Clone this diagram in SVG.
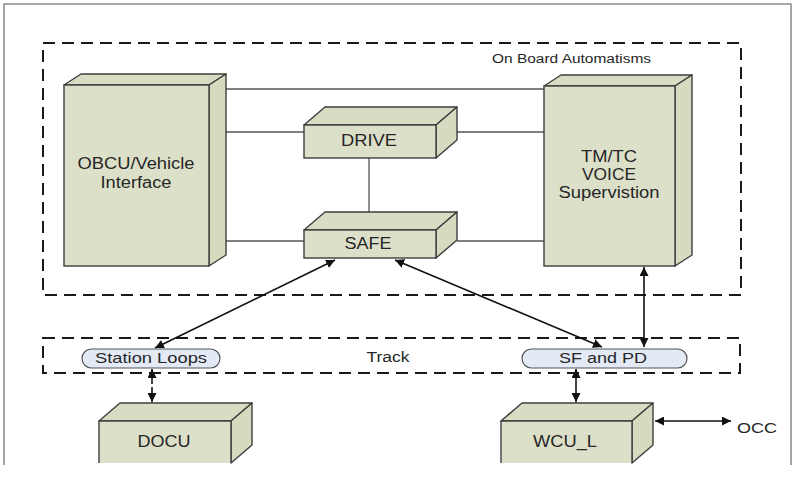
<svg xmlns="http://www.w3.org/2000/svg" width="795" height="499" viewBox="0 0 795 499">
<style>
.frame{fill:none;stroke:#8a8a8a;stroke-width:1.5}
.dash{fill:none;stroke:#1a1a1a;stroke-width:2;stroke-dasharray:12,7}
.front{fill:#dde0c9;stroke:#3e3e3e;stroke-width:1.4}
.top{fill:#d9dcc3;stroke:#3e3e3e;stroke-width:1.4;stroke-linejoin:round}
.side{fill:#d6dabf;stroke:#3e3e3e;stroke-width:1.4;stroke-linejoin:round}
.edge{fill:none;stroke:#3e3e3e;stroke-width:1.4}
.pill{fill:#e3eaf6;stroke:#555;stroke-width:1.2}
.lbl{font-family:"Liberation Sans",Arial,sans-serif;fill:#262626;text-anchor:middle}
.conn{stroke:#555;stroke-width:1.3;fill:none}
.arr{stroke:#111;stroke-width:1.6;fill:none;marker-start:url(#ah);marker-end:url(#ah)}
</style>
<defs>
<marker id="ah" viewBox="0 0 10 10" refX="10" refY="5" markerWidth="9" markerHeight="9" markerUnits="userSpaceOnUse" orient="auto-start-reverse">
<path d="M0,0 L10,5 L0,10 z" fill="#111"/>
</marker>
</defs>
<rect width="795" height="499" fill="#fff"/>
<path class="frame" d="M4,465 V4 H791 V465"/>

<g id="onboard">
<rect class="dash" x="43" y="43" width="698" height="252"/>
<text class="lbl" x="571.5" y="63" font-size="12.5" textLength="159" lengthAdjust="spacingAndGlyphs">On Board Automatisms</text>
</g>
<g id="track">
<rect class="dash" x="43" y="338" width="697" height="35"/>
<text class="lbl" x="388" y="362" font-size="15.5" textLength="43" lengthAdjust="spacingAndGlyphs">Track</text>
</g>

<g id="connectors">
<line class="conn" x1="226" y1="89" x2="544" y2="89"/>
<line class="conn" x1="226" y1="132" x2="304" y2="132"/>
<line class="conn" x1="457" y1="132" x2="544" y2="132"/>
<line class="conn" x1="226" y1="241" x2="304" y2="241"/>
<line class="conn" x1="457" y1="241" x2="544" y2="241"/>
<line class="conn" x1="369" y1="158" x2="369" y2="212"/>
<line class="arr" x1="155" y1="348" x2="335" y2="260"/>
<line class="arr" x1="602" y1="347" x2="395" y2="260"/>
<line class="arr" x1="644" y1="267" x2="644" y2="347"/>
<line class="arr" x1="152" y1="369" x2="152" y2="402" stroke-dasharray="6,3"/>
<line class="arr" x1="576" y1="369" x2="576" y2="402"/>
<line class="arr" x1="655" y1="421" x2="731" y2="421"/>
</g>

<g id="obcu">
<polygon class="top" points="64,85 81,74 226,74 209,85"/>
<polygon class="side" points="209,85 226,74 226,255 209,266"/>
<rect class="front" x="64" y="85" width="145" height="181"/>
<text class="lbl" x="136" y="169" font-size="16" textLength="117" lengthAdjust="spacingAndGlyphs">OBCU/Vehicle</text>
<text class="lbl" x="136" y="188" font-size="16" textLength="71" lengthAdjust="spacingAndGlyphs">Interface</text>
</g>

<g id="tmtc">
<polygon class="top" points="544,86 561,75 692,75 675,86"/>
<polygon class="side" points="675,86 692,75 692,255 675,266"/>
<rect class="front" x="544" y="86" width="131" height="180"/>
<text class="lbl" x="609" y="162" font-size="16" textLength="56" lengthAdjust="spacingAndGlyphs">TM/TC</text>
<text class="lbl" x="609" y="180" font-size="16" textLength="54" lengthAdjust="spacingAndGlyphs">VOICE</text>
<text class="lbl" x="609" y="198" font-size="16" textLength="101" lengthAdjust="spacingAndGlyphs">Supervistion</text>
</g>

<g id="drive">
<polygon class="top" points="304,125 325,107 457,107 436,125"/>
<polygon class="side" points="436,125 457,107 457,140 436,158"/>
<rect class="front" x="304" y="125" width="132" height="33"/>
<text class="lbl" x="369" y="146" font-size="16" textLength="56" lengthAdjust="spacingAndGlyphs">DRIVE</text>
</g>

<g id="safe">
<polygon class="top" points="304,230 325,212 457,212 436,230"/>
<polygon class="side" points="436,230 457,212 457,240 436,258"/>
<rect class="front" x="304" y="230" width="132" height="28"/>
<text class="lbl" x="368" y="249" font-size="16" textLength="47" lengthAdjust="spacingAndGlyphs">SAFE</text>
</g>

<g id="stationloops">
<rect class="pill" x="82" y="349" width="138" height="19" rx="9.5"/>
<text class="lbl" x="151" y="363" font-size="15" textLength="112" lengthAdjust="spacingAndGlyphs">Station Loops</text>
</g>

<g id="sfpd">
<rect class="pill" x="522" y="349" width="165" height="19" rx="9.5"/>
<text class="lbl" x="603" y="363" font-size="15" textLength="88" lengthAdjust="spacingAndGlyphs">SF and PD</text>
</g>

<g id="docu">
<polygon class="top" points="99,421 120,403 252,403 231,421"/>
<polygon class="side" points="231,421 252,403 252,445 231,463"/>
<rect x="99" y="421" width="132" height="42" fill="#dde0c9"/>
<path class="edge" d="M99,463 V421 H231 V463"/>
<text class="lbl" x="164" y="447" font-size="16" textLength="53" lengthAdjust="spacingAndGlyphs">DOCU</text>
</g>

<g id="wcul">
<polygon class="top" points="501,421 522,403 653,403 632,421"/>
<polygon class="side" points="632,421 653,403 653,445 632,463"/>
<rect x="501" y="421" width="131" height="42" fill="#dde0c9"/>
<path class="edge" d="M501,463 V421 H632 V463"/>
<text class="lbl" x="565" y="447" font-size="16" textLength="64" lengthAdjust="spacingAndGlyphs">WCU_L</text>
</g>

<g id="occ">
<text class="lbl" x="757" y="433" font-size="14" textLength="40" lengthAdjust="spacingAndGlyphs">OCC</text>
</g>
</svg>
